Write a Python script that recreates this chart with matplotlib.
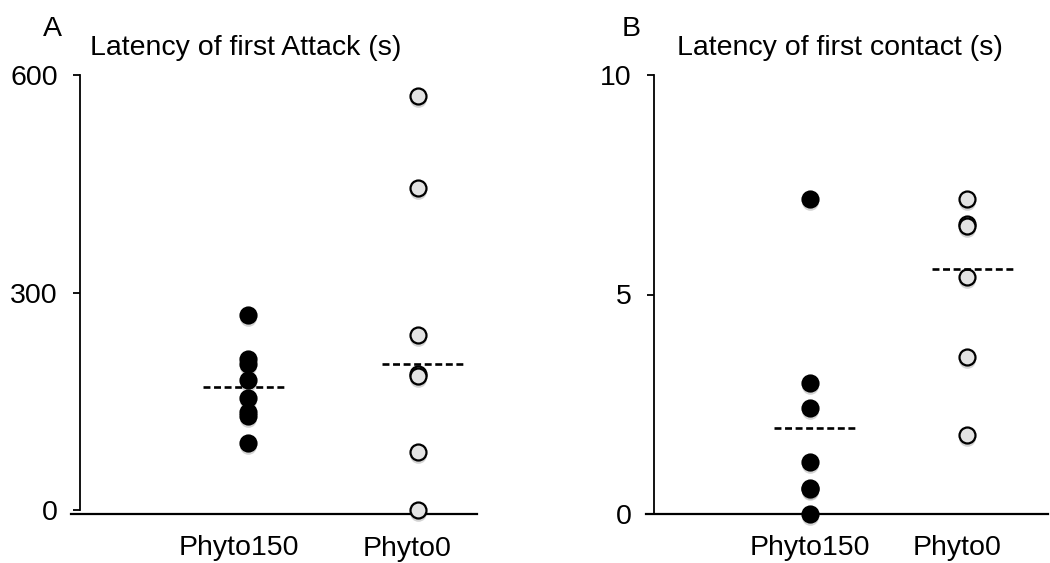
import matplotlib
matplotlib.use("Agg")
import matplotlib.pyplot as plt
from matplotlib import transforms

plt.rcParams['font.family'] = ['Liberation Sans', 'DejaVu Sans']
plt.rcParams['lines.scale_dashes'] = False

# data
groups = ['Phyto150', 'Phyto0']

attack_phyto150 = [269, 209, 201, 180, 154, 136, 130, 93]
attack_phyto0 = [571, 445, 241, 188, 185, 80, 0]
attack_means = [170, 201]

contact_phyto150 = [7.18, 2.98, 2.41, 1.18, 0.60, 0.56, 0.0]
contact_phyto0 = [7.18, 6.60, 6.55, 5.39, 3.58, 1.80]
contact_means = [1.97, 5.58]

attack_ticks = [0, 300, 600]
contact_ticks = [0, 5, 10]

FS = 20.5
W, H = 1050, 563

fig = plt.figure(figsize=(10.5, 5.63), dpi=100)
axA = fig.add_axes([71 / W, 1 - 513.5 / H, 406 / W, (513.5 - 75.4) / H])
axB = fig.add_axes([646 / W, 1 - 514 / H, 402 / W, (514 - 75) / H])


def draw_panel(ax, filled, hollow, means, ticks, ylim, xlim, yaxis_at,
               mean_span, label_shift, label_base):
    pos = [1, 2]
    shadow = transforms.offset_copy(ax.transData, fig=fig, x=0, y=-3, units='dots')
    for x, vals, face in [(pos[0], filled, 'black'), (pos[1], hollow, '#e3e3e3')]:
        ax.plot([x] * len(vals), vals, 'o', ms=12, mfc='0.45', mec='none',
                alpha=0.3, transform=shadow, clip_on=False, zorder=2)
        ax.plot([x] * len(vals), vals, 'o', ms=11.5, mfc=face, mec='black',
                mew=1.6, clip_on=False, zorder=3)
    for x, m, (a, b) in zip(pos, means, mean_span):
        ax.plot([x + a, x + b], [m, m], color='black', lw=1.9,
                linestyle=(0, (5, 2.6)), zorder=4)

    for s in ['top', 'right']:
        ax.spines[s].set_visible(False)
    ax.spines['left'].set_position(('axes', yaxis_at))
    ax.spines['left'].set_bounds(ticks[0], ticks[-1])
    ax.spines['left'].set_linewidth(1.3)
    ax.spines['bottom'].set_linewidth(1.6)

    ax.set_xlim(*xlim)
    ax.set_ylim(*ylim)
    ax.set_yticks(ticks)
    ax.set_yticklabels([str(t) for t in ticks])
    ax.set_xticks([])
    ax.tick_params(axis='y', length=5, width=1.3, pad=11, direction='out',
                   labelsize=FS)

    tr = transforms.blended_transform_factory(ax.transData, fig.transFigure)
    for x, name, dx, base in zip(pos, groups, label_shift, label_base):
        ax.text(x + dx, 1 - base / H, name, transform=tr, fontsize=FS,
                ha='center', va='baseline', clip_on=False)


draw_panel(axA, attack_phyto150, attack_phyto0, attack_means, attack_ticks,
           (-4.8, 600), (-0.041, 2.347), 9 / 406,
           [(-0.265, 0.218), (-0.212, 0.27)], [-0.056, -0.065], [555, 556.5])
draw_panel(axB, contact_phyto150, contact_phyto0, contact_means, contact_ticks,
           (0, 10), (-0.0446, 2.516), 8 / 402,
           [(-0.23, 0.29), (-0.22, 0.30)], [0.0, -0.064], [555, 555])

fig.text(43 / W, 1 - 36 / H, 'A', fontsize=FS, ha='left', va='baseline')
fig.text(90 / W, 1 - 55 / H, 'Latency of first Attack (s)', fontsize=FS,
         ha='left', va='baseline')
fig.text(622 / W, 1 - 36 / H, 'B', fontsize=FS, ha='left', va='baseline')
fig.text(677 / W, 1 - 55 / H, 'Latency of first contact (s)', fontsize=FS,
         ha='left', va='baseline')

fig.savefig('out.png', dpi=100)
